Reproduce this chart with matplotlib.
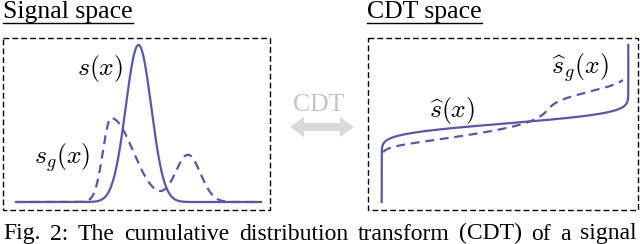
import numpy as np
import matplotlib
matplotlib.use("Agg")
import matplotlib.pyplot as plt
from matplotlib.patches import Rectangle, FancyArrow

plt.rcParams["mathtext.fontset"] = "cm"
SERIF = "Liberation Serif"
BLUE = "#5656b8"

# --- signal components (position 0..1, height 0..1) ---
s_centers = [0.50]
s_sig_left = [0.052]
s_sig_right = [0.052]
s_amps = [1.0]

sg_centers = [0.388, 0.702]
sg_sig_left = [0.033, 0.051]
sg_sig_right = [0.090, 0.051]
sg_amps = [0.535, 0.30]

# part of the dashed CDT curve that is drawn
sg_t_range = [0.006, 0.978]

caption = "Fig. 2: The cumulative distribution transform (CDT) of a signal"


def build_signal(u, centers, sl, sr, amps):
    y = np.zeros_like(u)
    for c, a, b, h in zip(centers, sl, sr, amps):
        sig = np.where(u < c, a, b)
        y += h * np.exp(-0.5 * ((u - c) / sig) ** 2)
    return y


def cdt(u, sig, t):
    # inverse of the cumulative distribution (uniform reference)
    cdf = np.cumsum(sig + 1e-9)
    cdf = (cdf - cdf[0]) / (cdf[-1] - cdf[0])
    return np.interp(t, cdf, u)


u = np.linspace(0, 1, 4001)
s = build_signal(u, s_centers, s_sig_left, s_sig_right, s_amps)
sg = build_signal(u, sg_centers, sg_sig_left, sg_sig_right, sg_amps)

W, H = 640, 244
fig = plt.figure(figsize=(6.4, 2.44), dpi=100)

# overlay in pixel coords for boxes, titles, arrow, caption
ax0 = fig.add_axes([0, 0, 1, 1])
ax0.set_xlim(0, W); ax0.set_ylim(H, 0); ax0.axis("off")

for x0, x1 in [(3, 270), (367.5, 638)]:
    r = Rectangle((x0, 38), x1 - x0, 172, fill=False, ec="black", lw=1.0,
                  linestyle=(0, (4.2, 2.2)))
    ax0.add_patch(r)

for x0, txt in [(3, "Signal space"), (367, "CDT space")]:
    t = ax0.text(x0, 18, txt, family=SERIF, fontsize=18.5, ha="left", va="baseline")
    fig.canvas.draw()
    bb = t.get_window_extent(fig.canvas.get_renderer())
    ax0.plot([bb.x0, bb.x1], [22.8, 22.8], color="black", lw=1.0)

ax0.text(319, 111, "CDT", family=SERIF, fontsize=18.5, color="#c4c4c4",
         ha="center", va="baseline")
for d in (1, -1):
    ax0.add_patch(FancyArrow(322, 127, d * 32, 0, width=8, head_width=20,
                             head_length=14, length_includes_head=True,
                             color="#d9d9d9", lw=0))

# justified caption, cut at the bottom edge like the source
words = caption.split()
texts = [ax0.text(0, 239.5, w, family=SERIF, fontsize=17, va="baseline")
         for w in words]
fig.canvas.draw()
rend = fig.canvas.get_renderer()
widths = [t.get_window_extent(rend).width for t in texts]
gap = (637 - 3 - sum(widths)) / (len(words) - 1)
x = 3
for t, w in zip(texts, widths):
    t.set_x(x)
    x += w + gap

# signal space
ax1 = fig.add_axes([16 / W, (H - 202) / H, 245 / W, 157 / H])
ax1.set_xlim(0, 1); ax1.set_ylim(0, 1); ax1.axis("off")
ax1.plot(u, s, color=BLUE, lw=1.6, clip_on=False)
ln, = ax1.plot(u, sg, color=BLUE, lw=1.6, clip_on=False)
ln.set_dashes((4, 2.6))
ax1.text(0.345, 0.85, r"$s(x)$", fontsize=18.5, ha="center", va="center")
ax1.text(0.19, 0.28, r"$s_g(x)$", fontsize=18.5, ha="center", va="center")

# CDT space
ax2 = fig.add_axes([381.7 / W, (H - 202) / H, 246.6 / W, 157 / H])
ax2.set_xlim(0, 1); ax2.set_ylim(0, 1); ax2.axis("off")
t_all = np.concatenate([[0.0], np.logspace(-9, -2, 200), np.linspace(0.01, 0.99, 400),
                        1 - np.logspace(-2, -9, 200), [1.0]])
ax2.plot(t_all, cdt(u, s, t_all), color=BLUE, lw=1.6, clip_on=False)
t_g = np.linspace(sg_t_range[0], sg_t_range[1], 800)
ln2, = ax2.plot(t_g, cdt(u, sg, t_g), color=BLUE, lw=1.6, clip_on=False)
ln2.set_dashes((4, 2.6))
ax2.text(0.285, 0.58, r"$\widehat{s}(x)$", fontsize=18.5, ha="center", va="center")
ax2.text(0.805, 0.855, r"$\widehat{s}_g(x)$", fontsize=18.5, ha="center", va="center")

fig.savefig("out.png", dpi=100)
